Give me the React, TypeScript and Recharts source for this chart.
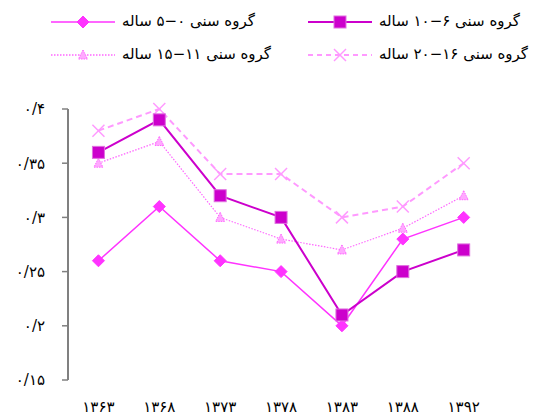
import React from "react";
import { LineChart, Line, XAxis, YAxis } from "recharts";

// Survey years (Persian calendar) along the horizontal axis
const years = ["۱۳۶۳", "۱۳۶۸", "۱۳۷۳", "۱۳۷۸", "۱۳۸۳", "۱۳۸۸", "۱۳۹۲"];

// Values per age group
const age0to5 = [0.26, 0.31, 0.26, 0.25, 0.2, 0.28, 0.3];
const age6to10 = [0.36, 0.39, 0.32, 0.3, 0.21, 0.25, 0.27];
const age11to15 = [0.35, 0.37, 0.3, 0.28, 0.27, 0.29, 0.32];
const age16to20 = [0.38, 0.4, 0.34, 0.34, 0.3, 0.31, 0.35];

const seriesNames = [
  "گروه سنی ۰−۵ ساله",
  "گروه سنی ۶−۱۰ ساله",
  "گروه سنی ۱۱−۱۵ ساله",
  "گروه سنی ۱۶−۲۰ ساله",
];

const yTicks = [0.15, 0.2, 0.25, 0.3, 0.35, 0.4];
const slotCount = 8;

const FONT = "'DejaVu Sans', sans-serif";
const AXIS = "#808080";

const toPersianDigits = (s: string) =>
  s.replace(/[0-9]/g, (d) => "۰۱۲۳۴۵۶۷۸۹"[Number(d)]);

const formatY = (v: number) => {
  const str = String(Math.round(v * 100) / 100).replace(".", "/");
  return toPersianDigits(str);
};

const data = years.map((y, i) => ({
  x: i + 0.5,
  label: y,
  s0: age0to5[i],
  s1: age6to10[i],
  s2: age11to15[i],
  s3: age16to20[i],
}));

const C_DIAMOND = "#FF33FF";
const C_SQUARE = "#CC00CC";
const C_TRIANGLE = "#FF66FF";
const C_CROSS = "#FF99FF";

const Diamond = ({ cx, cy, r = 6 }: { cx: number; cy: number; r?: number }) => (
  <polygon
    points={`${cx},${cy - r} ${cx + r},${cy} ${cx},${cy + r} ${cx - r},${cy}`}
    fill={C_DIAMOND}
    stroke={C_DIAMOND}
    strokeWidth={1}
  />
);

const Square = ({ cx, cy, s = 12 }: { cx: number; cy: number; s?: number }) => (
  <rect
    x={cx - s / 2}
    y={cy - s / 2}
    width={s}
    height={s}
    fill={C_SQUARE}
    stroke="#E070E0"
    strokeWidth={1}
  />
);

const Triangle = ({ cx, cy }: { cx: number; cy: number }) => (
  <polygon
    points={`${cx},${cy - 5} ${cx + 4.5},${cy + 4} ${cx - 4.5},${cy + 4}`}
    fill="#FFAAFF"
    stroke={C_TRIANGLE}
    strokeWidth={1}
    strokeDasharray="1.5 1"
  />
);

const Cross = ({ cx, cy, r = 6 }: { cx: number; cy: number; r?: number }) => (
  <g stroke={C_CROSS} strokeWidth={1.5}>
    <line x1={cx - r} y1={cy - r} x2={cx + r} y2={cy + r} />
    <line x1={cx - r} y1={cy + r} x2={cx + r} y2={cy - r} />
  </g>
);

const dotRenderer =
  (Shape: React.ComponentType<{ cx: number; cy: number }>) => (p: any) =>
    <Shape key={`d-${p.index}`} cx={p.cx} cy={p.cy} />;

const LegendItem = ({
  left,
  top,
  color,
  dash,
  width,
  marker,
  text,
}: {
  left: number;
  top: number;
  color: string;
  dash?: string;
  width: number;
  marker: React.ReactNode;
  text: string;
}) => (
  <div style={{ position: "absolute", left, top, height: 20 }}>
    <svg width={70} height={20} style={{ position: "absolute", left: 0, top: 0 }}>
      <line x1={2} y1={10} x2={66} y2={10} stroke={color} strokeWidth={width} strokeDasharray={dash} />
      {marker}
    </svg>
    <span
      dir="rtl"
      style={{
        position: "absolute",
        left: 73,
        top: -1,
        whiteSpace: "nowrap",
        fontFamily: FONT,
        fontSize: 15,
        lineHeight: "20px",
        color: "#000",
      }}
    >
      {text}
    </span>
  </div>
);

export default function App() {
  return (
    <div style={{ position: "absolute", left: 0, top: 0, width: 556, height: 417, background: "#fff" }}>
      <LegendItem left={49} top={12} color={C_DIAMOND} width={1.5} marker={<Diamond cx={34} cy={10} />} text={seriesNames[0]} />
      <LegendItem left={306} top={12} color={C_SQUARE} width={2} marker={<Square cx={34} cy={10} />} text={seriesNames[1]} />
      <LegendItem left={49} top={45} color={C_TRIANGLE} width={1.5} dash="1.5 1.5" marker={<Triangle cx={34} cy={10} />} text={seriesNames[2]} />
      <LegendItem left={306} top={45} color={C_CROSS} width={2} dash="5 4" marker={<Cross cx={34} cy={10} />} text={seriesNames[3]} />

      <LineChart
        width={556}
        height={417}
        data={data}
        margin={{ top: 109, right: 1, bottom: 0, left: 0 }}
        style={{ position: "absolute", left: 0, top: 0 }}
      >
        <XAxis
          xAxisId="grid"
          dataKey="x"
          type="number"
          domain={[0, slotCount]}
          ticks={Array.from({ length: slotCount + 1 }, (_, i) => i)}
          interval={0}
          height={0}
          tick={() => <g />}
          tickSize={6}
          tickLine={{ stroke: AXIS, strokeWidth: 1.5 }}
          axisLine={{ stroke: AXIS, strokeWidth: 2 }}
        />
        <XAxis
          xAxisId="lab"
          dataKey="x"
          type="number"
          domain={[0, slotCount]}
          ticks={data.map((d) => d.x)}
          interval={0}
          height={37}
          axisLine={false}
          tickLine={false}
          tickSize={0}
          tickMargin={21}
          tickFormatter={(v: number) => years[Math.floor(v)] ?? ""}
          tick={{ fill: "#000", fontSize: 15, fontFamily: FONT }}
        />
        <YAxis
          type="number"
          domain={[0.15, 0.4]}
          ticks={yTicks}
          interval={0}
          width={68}
          tickSize={6}
          tickMargin={17}
          tickFormatter={formatY}
          tick={{ fill: "#000", fontSize: 15, fontFamily: FONT }}
          tickLine={{ stroke: AXIS, strokeWidth: 1.5 }}
          axisLine={{ stroke: AXIS, strokeWidth: 2 }}
        />
        <Line
          xAxisId="lab"
          dataKey="s3"
          stroke={C_CROSS}
          strokeWidth={2}
          strokeDasharray="6 4"
          dot={dotRenderer(Cross)}
          activeDot={false}
          isAnimationActive={false}
        />
        <Line
          xAxisId="lab"
          dataKey="s2"
          stroke={C_TRIANGLE}
          strokeWidth={1.2}
          strokeDasharray="1.5 1.5"
          dot={dotRenderer(Triangle)}
          activeDot={false}
          isAnimationActive={false}
        />
        <Line
          xAxisId="lab"
          dataKey="s0"
          stroke={C_DIAMOND}
          strokeWidth={1.5}
          dot={dotRenderer(Diamond)}
          activeDot={false}
          isAnimationActive={false}
        />
        <Line
          xAxisId="lab"
          dataKey="s1"
          stroke={C_SQUARE}
          strokeWidth={2}
          dot={dotRenderer(Square)}
          activeDot={false}
          isAnimationActive={false}
        />
      </LineChart>
    </div>
  );
}
